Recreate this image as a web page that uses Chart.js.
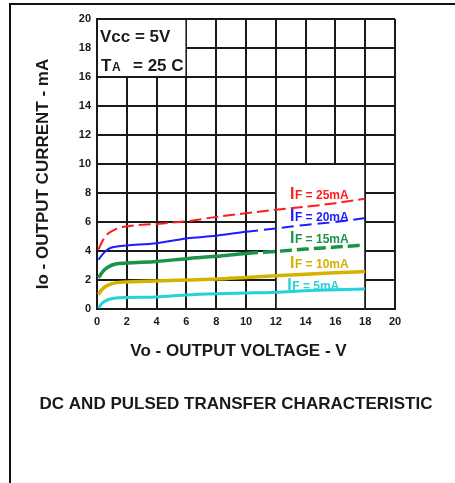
<!DOCTYPE html>
<html>
<head>
<meta charset="utf-8">
<script src="https://cdn.jsdelivr.net/npm/chart.js@4.4.1/dist/chart.umd.min.js"></script>
<style>
  html, body { margin: 0; padding: 0; background: #fff; }
  canvas { display: block; }
</style>
</head>
<body>
<canvas id="chart" width="455" height="483"></canvas>
<script>
// Output voltage sample points (V), shared by all curves
const vo = [0.1, 0.4, 0.75, 1.25, 2, 4, 6, 8, 10, 12, 14, 16, 18];

// Output current (mA) for each forward current IF
const io25 = [4.1, 4.75, 5.2, 5.5, 5.7, 5.87, 6.05, 6.35, 6.6, 6.85, 7.05, 7.3, 7.6];
const io20 = [3.4, 3.8, 4.13, 4.3, 4.38, 4.54, 4.87, 5.05, 5.33, 5.55, 5.8, 6.0, 6.27];
const io15 = [2.15, 2.6, 2.9, 3.1, 3.17, 3.28, 3.47, 3.63, 3.83, 3.97, 4.13, 4.27, 4.42];
const io10 = [1.0, 1.42, 1.65, 1.8, 1.87, 1.93, 2.0, 2.07, 2.18, 2.29, 2.4, 2.5, 2.59];
const io5 = [0.08, 0.45, 0.64, 0.76, 0.8, 0.83, 0.97, 1.05, 1.1, 1.15, 1.26, 1.33, 1.38];

const seriesNames = ['25mA', '20mA', '15mA', '10mA', '5mA'];
const axisTicks = [0, 2, 4, 6, 8, 10, 12, 14, 16, 18, 20];

const FONT = "'Liberation Sans', Arial, sans-serif";
const INK = '#1a1a1a';

const toPoints = ys => vo.map((v, i) => ({ x: v, y: ys[i] }));

// dashed from a given voltage onwards (pulsed region)
const dashFrom = (from, dash) => ctx => ctx.p0.parsed.x >= from ? dash : undefined;

const datasets = [
  { label: seriesNames[0], data: toPoints(io25), borderColor: '#ff1c1c', borderWidth: 2, borderDash: [12, 5] },
  { label: seriesNames[1], data: toPoints(io20), borderColor: '#1c1cff', borderWidth: 2,
    segment: { borderDash: dashFrom(10, [12, 6]) } },
  { label: seriesNames[2], data: toPoints(io15), borderColor: '#1a9448', borderWidth: 3.5,
    segment: { borderDash: dashFrom(10, [12, 5]) } },
  { label: seriesNames[3], data: toPoints(io10), borderColor: '#d6b100', borderWidth: 3.5 },
  { label: seriesNames[4], data: toPoints(io5), borderColor: '#25d2d8', borderWidth: 3 }
].map(d => Object.assign({ pointRadius: 0, cubicInterpolationMode: 'monotone', fill: false }, d));

const labelColors = ['#ff1c1c', '#1c1cff', '#1a9448', '#d6b100', '#25d2d8'];
const labelPos = [[12.95, 7.59], [12.95, 6.08], [12.95, 4.56], [12.95, 2.84], [12.77, 1.33]];

function whiteBox(ctx, x, y, x0, y0, x1, y1) {
  const l = x.getPixelForValue(x0) + 1, r = x.getPixelForValue(x1) - 1;
  const t = y.getPixelForValue(y1) + 1, b = y.getPixelForValue(y0) - 1;
  ctx.fillRect(l, t, r - l, b - t);
}

const decor = {
  id: 'decor',
  beforeDatasetsDraw(chart) {
    const { ctx, scales: { x, y } } = chart;
    ctx.save();
    ctx.fillStyle = '#fff';
    whiteBox(ctx, x, y, 0, 16, 6, 20);   // Vcc / TA box
    whiteBox(ctx, x, y, 12, 0, 18, 10);  // curve labels area
    ctx.restore();
  },
  afterDatasetsDraw(chart) {
    const { ctx, scales: { x, y } } = chart;
    ctx.save();
    ctx.textBaseline = 'alphabetic';
    ctx.textAlign = 'left';
    seriesNames.forEach((name, i) => {
      const px = x.getPixelForValue(labelPos[i][0]);
      const py = y.getPixelForValue(labelPos[i][1]);
      ctx.fillStyle = labelColors[i];
      ctx.font = 'bold 16px ' + FONT;
      ctx.fillText('I', px, py);
      ctx.font = 'bold 12px ' + FONT;
      ctx.fillText('F = ' + name, px + 5, py);
    });

    // operating conditions
    const bx = x.getPixelForValue(0);
    const by = y.getPixelForValue(20);
    ctx.fillStyle = INK;
    ctx.font = 'bold 17px ' + FONT;
    ctx.fillText('Vcc = 5V', bx + 3, by + 23);
    ctx.fillText('T', bx + 4, by + 52);
    ctx.fillText('= 25 C', bx + 36, by + 52);
    ctx.font = 'bold 12px ' + FONT;
    ctx.fillText('A', bx + 15, by + 52);
    ctx.restore();
  },
  afterDraw(chart) {
    const { ctx, chartArea } = chart;
    ctx.save();
    // outer frame
    ctx.strokeStyle = '#111';
    ctx.lineWidth = 2;
    ctx.beginPath();
    ctx.moveTo(10, 483);
    ctx.lineTo(10, 4);
    ctx.lineTo(455, 4);
    ctx.stroke();

    ctx.fillStyle = INK;
    ctx.font = 'bold 17px ' + FONT;
    ctx.textBaseline = 'middle';
    ctx.textAlign = 'center';
    ctx.fillText('Vo - OUTPUT VOLTAGE - V', 238.5, chartArea.bottom + 42);
    ctx.fillText('DC AND PULSED TRANSFER CHARACTERISTIC', 236, 404);

    ctx.translate(43, 174);
    ctx.rotate(-Math.PI / 2);
    ctx.fillText('Io - OUTPUT CURRENT - mA', 0, 0);
    ctx.restore();
  }
};

const tickFont = { family: FONT, size: 11, weight: 'bold' };

new Chart(document.getElementById('chart'), {
  type: 'line',
  data: { datasets },
  plugins: [decor],
  options: {
    responsive: false,
    animation: false,
    layout: { padding: { left: 0, top: 19, right: 60, bottom: 149 } },
    plugins: { legend: { display: false }, tooltip: { enabled: false } },
    scales: {
      x: {
        type: 'linear',
        min: 0, max: 20,
        afterBuildTicks: s => { s.ticks = axisTicks.map(v => ({ value: v })); },
        afterFit: s => { s.height = 25; },
        grid: { color: INK, lineWidth: 2, drawTicks: false },
        border: { color: INK, width: 2 },
        ticks: { color: INK, font: tickFont, padding: 6, maxRotation: 0 }
      },
      y: {
        min: 0, max: 20,
        afterBuildTicks: s => { s.ticks = axisTicks.map(v => ({ value: v })); },
        afterFit: s => { s.width = 97; },
        grid: { color: INK, lineWidth: 2, drawTicks: false },
        border: { color: INK, width: 2 },
        ticks: { color: INK, font: tickFont, padding: 6 }
      }
    }
  }
});
</script>
</body>
</html>
